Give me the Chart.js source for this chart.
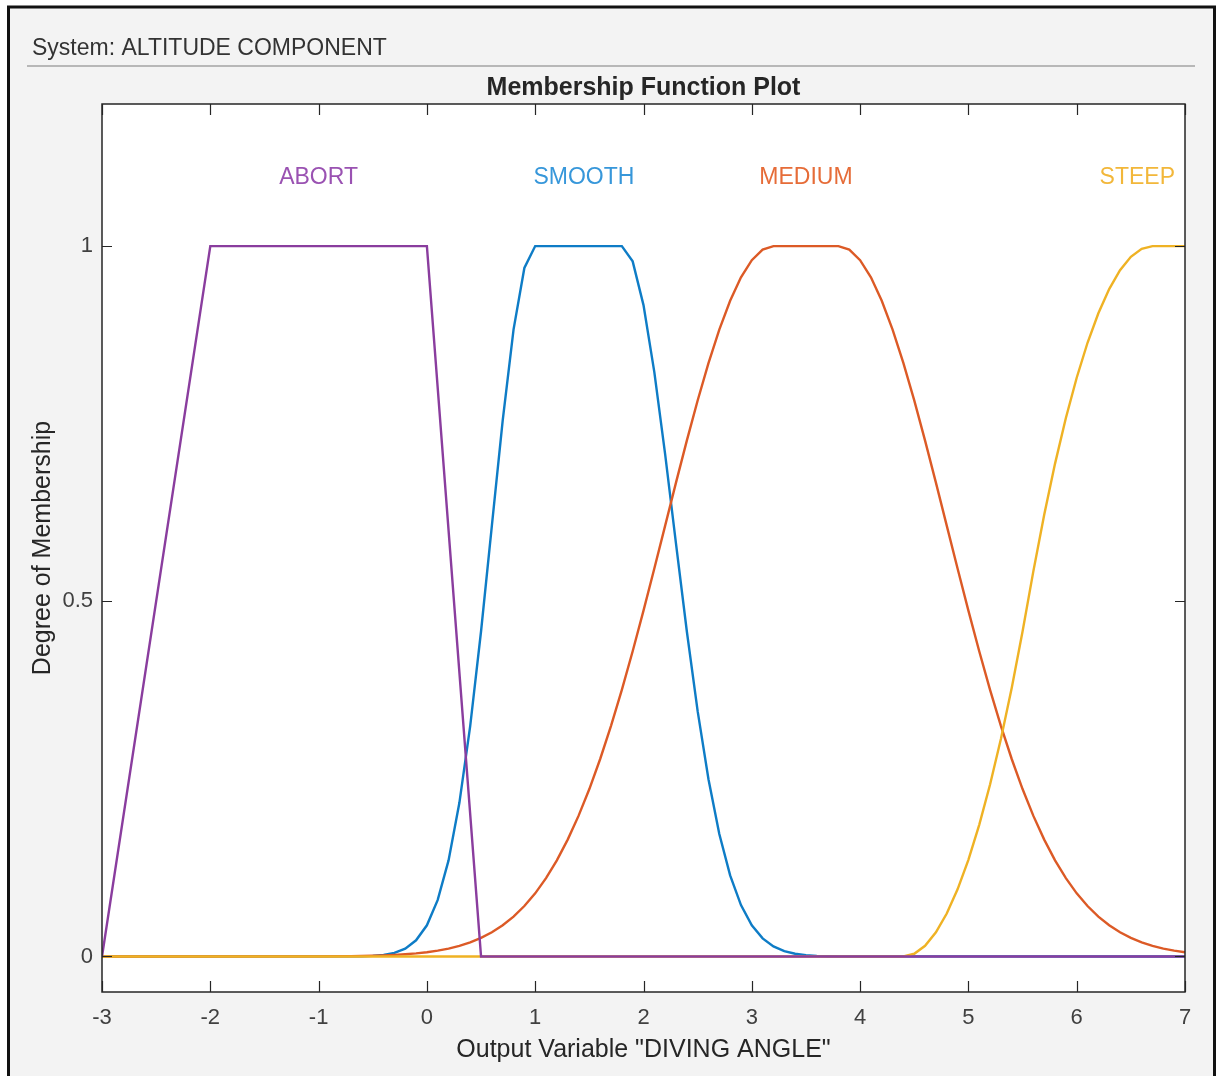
<!DOCTYPE html>
<html>
<head>
<meta charset="utf-8">
<title>Membership Function Plot</title>
<script src="https://cdn.jsdelivr.net/npm/chart.js@4.4.1/dist/chart.umd.min.js"></script>
<style>
  html, body { margin: 0; padding: 0; background: #fff; }
  #mf-chart { display: block; }
</style>
</head>
<body>
<canvas id="mf-chart" width="1221" height="1076"></canvas>
<script>
// --- DATA ---
const systemName = 'ALTITUDE COMPONENT';
const outputName = 'DIVING ANGLE';

const xTickValues = [-3, -2, -1, 0, 1, 2, 3, 4, 5, 6, 7];
const yTickValues = [0, 0.5, 1];
const yTickLabels = ['0', '0.5', '1'];

const mfNames = ['ABORT', 'SMOOTH', 'MEDIUM', 'STEEP'];
const mfCenters = [-1, 1.45, 3.5, 6.85];

// ABORT (trapezoid)
const abortX = [-3, -2, 0, 0.5, 7];
const abortY = [0, 1, 1, 0, 0];

// SMOOTH
const smoothX = [-3, -0.6, -0.5, -0.4, -0.3, -0.2, -0.1, 0, 0.1, 0.2, 0.3, 0.4, 0.5, 0.6, 0.7, 0.8, 0.9,
    1.0, 1.8, 1.9, 2.0, 2.1, 2.2, 2.3, 2.4, 2.5, 2.6, 2.7, 2.8, 2.9, 3.0, 3.1, 3.2, 3.3, 3.4, 3.5, 3.6, 3.7, 3.8, 7];
const smoothY = [0, 0.0003, 0.0009, 0.0022, 0.0051, 0.0111, 0.0228, 0.0439, 0.0796, 0.1353, 0.2163, 0.3247, 0.4578, 0.6065, 0.7548, 0.8825, 0.9692,
    1, 1, 0.9785, 0.9169, 0.8226, 0.7067, 0.5813, 0.4578, 0.3453, 0.2494, 0.1724, 0.1141, 0.0724, 0.0439, 0.0255, 0.0142, 0.0076, 0.0039, 0.0019, 0.0009, 0.0004, 0.0002, 0];

// MEDIUM
const mediumX = [-3, -1.0, -0.7, -0.5, -0.4, -0.3, -0.2, -0.1, 0, 0.1, 0.2, 0.3, 0.4, 0.5, 0.6, 0.7, 0.8, 0.9,
    1.0, 1.1, 1.2, 1.3, 1.4, 1.5, 1.6, 1.7, 1.8, 1.9, 2.0, 2.1, 2.2, 2.3, 2.4, 2.5, 2.6, 2.7, 2.8, 2.9, 3.0, 3.1, 3.2,
    3.8, 3.9, 4.0, 4.1, 4.2, 4.3, 4.4, 4.5, 4.6, 4.7, 4.8, 4.9, 5.0, 5.1, 5.2, 5.3, 5.4, 5.5, 5.6, 5.7, 5.8, 5.9,
    6.0, 6.1, 6.2, 6.3, 6.4, 6.5, 6.6, 6.7, 6.8, 6.9, 7.0];
const mediumY = [0, 0.0001, 0.0005, 0.0011, 0.0015, 0.0022, 0.0031, 0.0043, 0.0060, 0.0082, 0.0111, 0.0149, 0.0198, 0.0261, 0.0340, 0.0439, 0.0561, 0.0710,
    0.0889, 0.1103, 0.1353, 0.1645, 0.1979, 0.2357, 0.2780, 0.3247, 0.3753, 0.4296, 0.4868, 0.5461, 0.6065, 0.6670, 0.7261, 0.7827, 0.8353, 0.8825, 0.9231, 0.9560, 0.9802, 0.9950, 1,
    1, 0.9950, 0.9802, 0.9560, 0.9231, 0.8825, 0.8353, 0.7827, 0.7261, 0.6670, 0.6065, 0.5461, 0.4868, 0.4296, 0.3753, 0.3247, 0.2780, 0.2357, 0.1979, 0.1645, 0.1353, 0.1103,
    0.0889, 0.0710, 0.0561, 0.0439, 0.0340, 0.0261, 0.0198, 0.0149, 0.0111, 0.0082, 0.0060];

// STEEP (S-shaped)
const steepX = [-3, 4.4, 4.5, 4.6, 4.7, 4.8, 4.9, 5.0, 5.1, 5.2, 5.3, 5.4, 5.5, 5.6, 5.7, 5.8, 5.9,
    6.0, 6.1, 6.2, 6.3, 6.4, 6.5, 6.6, 6.7, 7];
const steepY = [0, 0, 0.0038, 0.0151, 0.0340, 0.0605, 0.0945, 0.1361, 0.1853, 0.2420, 0.3062, 0.3781, 0.4575, 0.5425, 0.6219, 0.6938, 0.7580,
    0.8147, 0.8639, 0.9055, 0.9395, 0.9660, 0.9849, 0.9962, 1, 1];

// --- STYLE ---
const FONT = '"Liberation Sans", Arial, Helvetica, sans-serif';
const lineColors = ['#8a3d9e', '#0e7cc6', '#dc5a26', '#efb224'];
const labelColors = ['#9a52b2', '#3797da', '#e66c38', '#f2b73a'];
const axisColor = '#262626';

function toPoints(xs, ys) {
    return xs.map((x, i) => ({ x: x, y: ys[i] }));
}

const curves = [toPoints(abortX, abortY), toPoints(smoothX, smoothY), toPoints(mediumX, mediumY), toPoints(steepX, steepY)];
// ABORT sits on top, then STEEP, MEDIUM, SMOOTH
const drawOrder = [1, 4, 3, 2];

// window frame, header and white plot background
const framePlugin = {
    id: 'frame',
    beforeDraw(chart) {
        const ctx = chart.ctx;
        const area = chart.chartArea;
        ctx.save();
        ctx.fillStyle = '#ffffff';
        ctx.fillRect(0, 0, chart.width, chart.height);
        ctx.fillStyle = '#f3f3f3';
        ctx.fillRect(8, 7, 1207, chart.height);
        ctx.strokeStyle = '#111111';
        ctx.lineWidth = 3;
        ctx.strokeRect(8.5, 7, 1206, chart.height + 10);

        ctx.fillStyle = '#333333';
        ctx.font = '23px ' + FONT;
        ctx.textBaseline = 'alphabetic';
        ctx.textAlign = 'left';
        ctx.fillText('System: ' + systemName, 32, 55);

        ctx.strokeStyle = '#a3a3a3';
        ctx.lineWidth = 1.5;
        ctx.beginPath();
        ctx.moveTo(27, 66);
        ctx.lineTo(1195, 66);
        ctx.stroke();

        ctx.fillStyle = '#ffffff';
        ctx.fillRect(area.left, area.top, area.right - area.left, area.bottom - area.top);
        ctx.restore();
    },
    afterDatasetsDraw(chart) {
        const ctx = chart.ctx;
        const area = chart.chartArea;
        const xs = chart.scales.x;
        const ys = chart.scales.y;
        ctx.save();

        // box and inward tick marks on all four sides
        ctx.strokeStyle = axisColor;
        ctx.lineWidth = 1.5;
        ctx.strokeRect(area.left, area.top, area.right - area.left, area.bottom - area.top);
        ctx.lineWidth = 1.2;
        ctx.beginPath();
        xs.ticks.forEach(t => {
            const px = Math.round(xs.getPixelForValue(t.value)) + 0.5;
            ctx.moveTo(px, area.bottom);
            ctx.lineTo(px, area.bottom - 11);
            ctx.moveTo(px, area.top);
            ctx.lineTo(px, area.top + 11);
        });
        ys.ticks.forEach(t => {
            const py = Math.round(ys.getPixelForValue(t.value)) + 0.5;
            ctx.moveTo(area.left, py);
            ctx.lineTo(area.left + 10, py);
            ctx.moveTo(area.right, py);
            ctx.lineTo(area.right - 10, py);
        });
        ctx.stroke();

        // membership function names above each curve, kept inside the axes
        ctx.font = '23px ' + FONT;
        ctx.textAlign = 'center';
        ctx.textBaseline = 'middle';
        mfNames.forEach((name, i) => {
            const w = ctx.measureText(name).width;
            let px = xs.getPixelForValue(mfCenters[i]);
            px = Math.min(px, area.right - 10 - w / 2);
            px = Math.max(px, area.left + 10 + w / 2);
            ctx.fillStyle = labelColors[i];
            ctx.fillText(name, px, ys.getPixelForValue(1.1) + 3);
        });
        ctx.restore();
    }
};

const chart = new Chart(document.getElementById('mf-chart'), {
    type: 'line',
    data: {
        datasets: curves.map((pts, i) => ({
            label: mfNames[i],
            data: pts,
            borderColor: lineColors[i],
            borderWidth: 2.4,
            pointRadius: 0,
            tension: 0,
            fill: false,
            order: drawOrder[i]
        }))
    },
    options: {
        responsive: false,
        animation: false,
        devicePixelRatio: 1,
        layout: { padding: { left: 12, top: 73, right: 36, bottom: 0 } },
        plugins: {
            legend: { display: false },
            tooltip: { enabled: false },
            title: {
                display: true,
                fullSize: false,
                text: 'Membership Function Plot',
                color: axisColor,
                font: { family: FONT, size: 25, weight: 'bold', lineHeight: 1.2 },
                padding: { top: 0, bottom: 1 }
            }
        },
        scales: {
            x: {
                type: 'linear',
                min: -3,
                max: 7,
                afterBuildTicks: scale => { scale.ticks = xTickValues.map(v => ({ value: v })); },
                afterFit: scale => { scale.height = 84; },
                grid: { display: false, drawTicks: false },
                border: { display: false },
                ticks: {
                    color: '#404040',
                    padding: 13,
                    font: { family: FONT, size: 22 },
                    maxRotation: 0,
                    callback: v => String(v)
                },
                title: {
                    display: true,
                    text: 'Output Variable "' + outputName + '"',
                    color: axisColor,
                    font: { family: FONT, size: 25, lineHeight: 1.2 },
                    padding: { top: 0, bottom: 11 }
                }
            },
            y: {
                type: 'linear',
                min: -0.05,
                max: 1.2,
                afterBuildTicks: scale => { scale.ticks = yTickValues.map(v => ({ value: v })); },
                afterFit: scale => { scale.width = 90; },
                grid: { display: false, drawTicks: false },
                border: { display: false },
                ticks: {
                    color: '#404040',
                    padding: 9,
                    font: { family: FONT, size: 22 },
                    callback: v => yTickLabels[yTickValues.indexOf(v)]
                },
                title: {
                    display: true,
                    text: 'Degree of Membership',
                    color: axisColor,
                    font: { family: FONT, size: 25, lineHeight: 1.2 },
                    padding: { top: 16, bottom: 0 }
                }
            }
        }
    },
    plugins: [framePlugin]
});
</script>
</body>
</html>
